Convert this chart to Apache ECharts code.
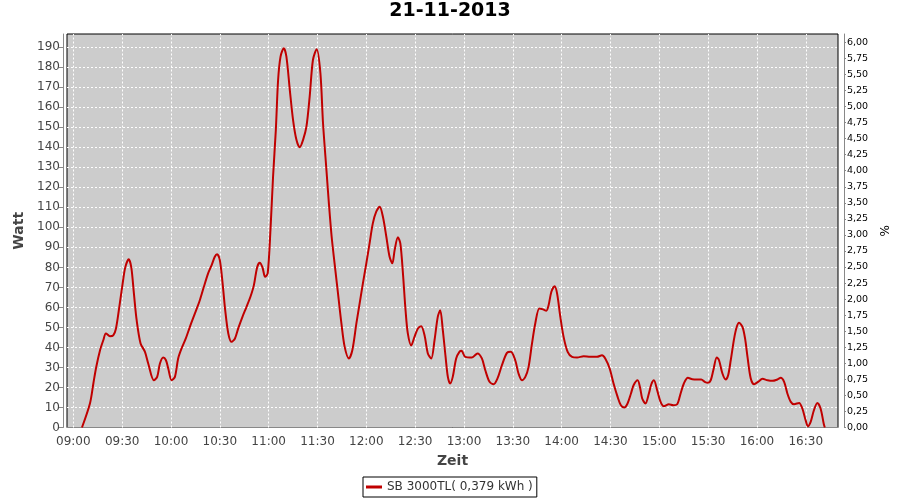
<!DOCTYPE html>
<html><head><meta charset="utf-8">
<script src="https://cdn.jsdelivr.net/npm/echarts@6/dist/echarts.min.js"></script>
<style>html,body{margin:0;padding:0;background:#fff}#c{width:900px;height:500px}</style>
</head><body><div id="c"></div>
<script>
const chartTitle = '21-11-2013';
const seriesName = 'SB 3000TL( 0,379 kWh )';
const xTitle = 'Zeit';
const yTitle = 'Watt';
const y2Title = '%';
const timeTicks = ['09:00','09:30','10:00','10:30','11:00','11:30','12:00','12:30','13:00','13:30','14:00','14:30','15:00','15:30','16:00','16:30'];
// minutes after midnight
const minutes = [545.3,550.2,552.3,554,556.4,558.4,560,562.5,564.5,566.2,568.2,570.3,571.9,574,575.6,577.2,578.9,581.3,584,586,589.5,591.5,593.2,595.2,596.9,598.3,600.4,602.4,604.4,606.5,609.1,611.6,614.7,617.7,620.2,622.8,624.9,626.9,628.3,630,631.7,633.3,635.2,637.2,639.3,641.3,643.9,646.4,648.8,650.9,652.9,654.5,656.2,657.8,659.4,661.1,662.7,664.4,665.8,667.3,669.3,670.9,673,675,677.1,679.1,681.1,683.2,685.2,687.2,689.5,691.8,693.4,695.5,697,698.7,700.5,702.6,704.7,706.7,709.3,711.4,713.9,715.9,717.9,720,722,724,726.1,728.2,730.2,732.3,734.3,736,737.4,739.4,740.9,742.5,744.1,745.5,747.6,749.6,751.7,753.7,755.8,757.8,759.9,761.9,763.9,765.4,767,768.7,770.1,771.5,773.1,775.2,777.2,778.5,780.8,784.9,788.3,791,793.1,795.7,798.2,800.6,803.3,806.4,808.8,811.5,813.5,815.6,817.7,819.7,821.8,823.8,826.3,828.6,830.6,832,833.7,835.7,837.2,839.2,841.2,843.7,846.4,849.5,853.5,857.6,861.7,864.8,866.8,869.5,871.9,874.4,876.4,878.5,880.5,882.6,884.2,886.7,888.3,889.5,891.5,893.6,895.1,896.7,898.7,900.8,902.8,905.9,908.6,911,913.1,915.1,917.6,920.3,923.4,925.8,927.9,929.9,931.6,933.2,935.3,936.7,938.8,940.8,942.3,943.9,946,947.6,949,951.1,952.7,954.2,956.2,958.3,960.7,963.4,966.5,969.5,972.6,974.6,976.7,978.7,980.8,982.8,985.9,987.9,989.9,991.3,993,995,997.1,999.1,1001.1,1001.7];
const watt = [0,12,22,30,38.6,43.6,47,45.6,46,49.5,60,72,80,84,80,67,53.6,42,37.8,32,23.6,25.3,32,35,33.6,29.5,23.6,25.3,34.5,39.5,44.5,50.3,57,63.6,70.3,77,81,85.3,86.6,83.6,72,58.6,47,42.8,44.5,49.5,55.3,60.3,65.3,71,80,82.3,80,75.3,77,98.6,125.3,148.6,173.6,185.3,189.5,185.3,168.6,153.6,143.6,140,143.6,150.3,165.3,183.6,189,177,152,128.6,112,95.3,82,67,52,40.3,34.5,38.6,52,62,72,82,92,102,107.8,110.3,105.3,95.3,85.3,82,88.6,95,92,77,58.6,47,41,45.3,49.5,50.6,46,37,34.5,43.6,55.3,58.6,48.6,35.3,25.3,22,25.3,34.5,37.8,38.3,35.3,35,37,34.5,28.6,22.8,21.6,24.5,31.1,37.3,37.8,33.6,27,23.6,25.3,30.3,42,52,59.5,59,58.3,61.1,67.8,70.6,67,55.3,45.3,37.8,35.3,35,35.6,35.3,35.3,36.1,34.5,29.5,22,15.3,11.1,10,12,17,21.1,23.6,19.5,14.5,12,17,21.6,23.6,18.6,12.8,10.6,11.6,11.1,11.6,17,22,24.8,24.1,24,24,22.8,22.3,23.6,28.6,35,33.6,27,24,26.1,33.6,44.5,50.3,52.3,50.3,44.5,35.3,24.5,21.6,22.8,24.3,23.6,23.3,24,24.8,22.8,17,12.8,11.6,12.3,9.5,3.6,0.6,2.8,8.6,12.3,9.5,1.6,0];

function toMin(s){const p=s.split(':');return (+p[0])*60+(+p[1]);}
function fmt(m){const h=Math.floor(m/60),mm=Math.round(m-h*60);return String(h).padStart(2,'0')+':'+String(mm).padStart(2,'0');}
const tickVals = timeTicks.map(toMin);
const data = minutes.map((m,i)=>[m,watt[i]]);
const FONT = 'DejaVu Sans';
const gridLine = {color:'#ffffff',type:[2,2],width:1};

const chart = echarts.init(document.getElementById('c'), null, {renderer:'canvas'});
chart.setOption({
  animation:false,
  backgroundColor:'#ffffff',
  title:{text:chartTitle,left:'center',top:2,padding:0,textStyle:{fontFamily:FONT,fontSize:19,fontWeight:'bold',color:'#000'}},
  legend:{data:[seriesName],left:363,top:477,padding:[4,4,4,3],itemGap:5,itemWidth:16,itemHeight:3,icon:'rect',
    borderColor:'#000',borderWidth:1,textStyle:{fontFamily:FONT,fontSize:12,color:'#333'}},
  grid:{left:67,right:61,top:34,bottom:72.5,show:true,backgroundColor:'#cccccc',borderColor:'#000',borderWidth:1,containLabel:false},
  xAxis:{type:'value',min:536.1,max:1009.8,offset:4,
    name:xTitle,nameLocation:'middle',nameGap:23,nameTextStyle:{fontFamily:FONT,fontSize:14,fontWeight:'bold',color:'#444'},
    axisLine:{show:true,lineStyle:{color:'#888',width:1}},
    axisTick:{show:false,customValues:tickVals},
    axisLabel:{customValues:tickVals,formatter:v=>fmt(v),fontFamily:FONT,fontSize:12,color:'#444',margin:4},
    splitLine:{show:false}},
  yAxis:[
    {type:'value',min:0,max:196.6,interval:10,offset:4,position:'left',
     name:yTitle,nameLocation:'middle',nameGap:36,nameTextStyle:{fontFamily:FONT,fontSize:14,fontWeight:'bold',color:'#444'},
     axisLine:{show:true,lineStyle:{color:'#888'}},
     axisTick:{show:true,length:4,lineStyle:{color:'#888'}},
     axisLabel:{showMaxLabel:false,fontFamily:FONT,fontSize:12,color:'#444',margin:3},
     splitLine:{show:true,showMinLine:false,showMaxLine:false,lineStyle:gridLine}},
    {type:'value',min:0,max:6.13,interval:0.25,offset:6,position:'right',
     name:y2Title,nameLocation:'middle',nameGap:36,nameTextStyle:{fontFamily:FONT,fontSize:12,color:'#000'},
     axisLine:{show:true,lineStyle:{color:'#888'}},
     axisTick:{show:true,length:2,lineStyle:{color:'#888'}},
     axisLabel:{showMaxLabel:false,formatter:v=>v.toFixed(2).replace('.',','),fontFamily:FONT,fontSize:9.5,color:'#000',margin:3},
     splitLine:{show:false}}
  ],
  series:[{name:seriesName,type:'line',data:data,yAxisIndex:0,showSymbol:false,symbol:'none',smooth:0.3,z:3,
    lineStyle:{color:'#c00000',width:2},itemStyle:{color:'#c00000'},
    markLine:{silent:true,symbol:'none',animation:false,z:1,label:{show:false},lineStyle:gridLine,
      data:tickVals.map(v=>({xAxis:v}))}}]
});
</script></body></html>
